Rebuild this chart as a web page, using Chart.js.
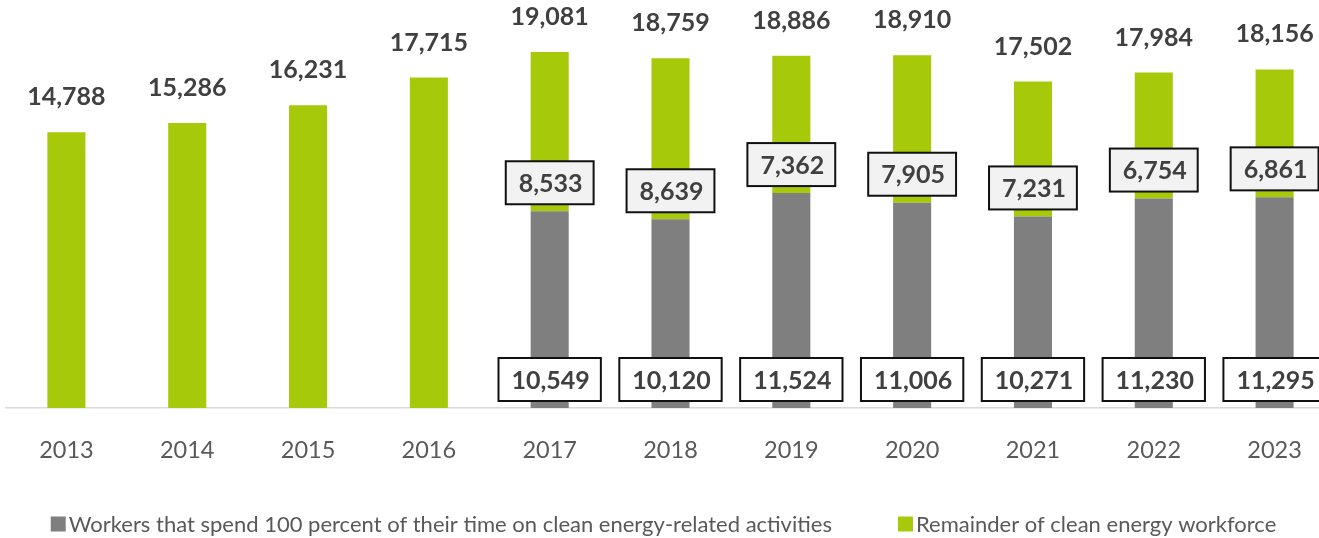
<!DOCTYPE html>
<html>
<head>
<meta charset="utf-8">
<script src="https://cdn.jsdelivr.net/npm/chart.js@4.4.1/dist/chart.umd.min.js"></script>
<style>
  html, body { margin: 0; padding: 0; background: #ffffff; overflow: hidden; }
  #wrap { width: 1340px; height: 538px; }
</style>
</head>
<body>
<div id="wrap"><canvas id="c" width="1340" height="538"></canvas></div>
<script>
// ---- data ----
const years = ['2013','2014','2015','2016','2017','2018','2019','2020','2021','2022','2023'];
const fullTimeWorkers = [null, null, null, null, 10549, 10120, 11524, 11006, 10271, 11230, 11295];
const remainderWorkers = [14788, 15286, 16231, 17715, 8533, 8639, 7362, 7905, 7231, 6754, 6861];
const totalWorkers = [14788, 15286, 16231, 17715, 19081, 18759, 18886, 18910, 17502, 17984, 18156];
const seriesNames = ['Workers that spend 100 percent of their time on clean energy-related activities',
                     'Remainder of clean energy workforce'];

const GRAY = '#7F7F7F';
const GREEN = '#A6C90A';
const LABEL_DARK = '#404040';
const FONT = 'Lato, "Open Sans", sans-serif';

const fmt = v => v.toLocaleString('en-US');

const labelsPlugin = {
  id: 'customLabels',
  afterDatasetsDraw(chart) {
    const ctx = chart.ctx;
    const m0 = chart.getDatasetMeta(0);
    const m1 = chart.getDatasetMeta(1);
    ctx.save();
    ctx.font = 'bold 25px ' + FONT;
    ctx.textAlign = 'center';
    ctx.textBaseline = 'middle';

    function box(text, cx, cy, fill) {
      const tw = ctx.measureText(text).width;
      const w = tw + 24, h = 43;
      ctx.fillStyle = fill;
      ctx.fillRect(cx - w / 2, cy - h / 2, w, h);
      ctx.lineWidth = 2;
      ctx.strokeStyle = '#111111';
      ctx.strokeRect(cx - w / 2, cy - h / 2, w, h);
      ctx.fillStyle = LABEL_DARK;
      ctx.fillText(text, cx + 1, cy + 1);
    }

    years.forEach((y, i) => {
      const top = m1.data[i];
      ctx.fillStyle = LABEL_DARK;
      ctx.fillText(fmt(totalWorkers[i]), top.x, top.y - 35);
      if (fullTimeWorkers[i] != null) {
        const g = m0.data[i];
        box(fmt(fullTimeWorkers[i]), g.x, g.base - 28.5, '#FFFFFF');
        box(fmt(remainderWorkers[i]), top.x, top.base - 28.5, '#F2F2F2');
      }
    });
    ctx.restore();
  }
};

const legendPlugin = {
  id: 'customLegend',
  afterDraw(chart) {
    const ctx = chart.ctx;
    ctx.save();
    ctx.font = '22px ' + FONT;
    ctx.textBaseline = 'middle';
    ctx.textAlign = 'left';
    const sq = 15, gapText = 3, gapItems = 66;
    const items = chart.data.datasets.map(ds => ({ text: ds.label, color: ds.backgroundColor }));
    const widths = items.map(it => sq + gapText + ctx.measureText(it.text).width);
    const total = widths.reduce((a, b) => a + b, 0) + gapItems * (items.length - 1);
    let x = (chart.chartArea.left + chart.chartArea.right) / 2 - total / 2 - 7;
    const cy = 524;
    items.forEach((it, k) => {
      ctx.fillStyle = it.color;
      ctx.fillRect(x, cy - sq / 2, sq, sq);
      ctx.fillStyle = '#595959';
      ctx.fillText(it.text, x + sq + gapText, cy + 1);
      x += widths[k] + gapItems;
    });
    ctx.restore();
  }
};

new Chart(document.getElementById('c'), {
  type: 'bar',
  data: {
    labels: years,
    datasets: [
      { label: seriesNames[0], data: fullTimeWorkers, backgroundColor: GRAY,
        barPercentage: 0.9, categoryPercentage: 0.35 },
      { label: seriesNames[1], data: remainderWorkers, backgroundColor: GREEN,
        barPercentage: 0.9, categoryPercentage: 0.35 }
    ]
  },
  options: {
    responsive: false,
    animation: false,
    devicePixelRatio: 1,
    layout: { padding: { top: 35, left: 6, right: 5, bottom: 0 } },
    plugins: { legend: { display: false }, tooltip: { enabled: false } },
    scales: {
      x: {
        stacked: true,
        grid: { display: false },
        border: { display: true, color: '#D9D9D9', width: 1.5 },
        ticks: { color: '#595959', font: { family: FONT, size: 23.5 }, padding: 20 },
        afterFit(scale) { scale.height = 130; }
      },
      y: {
        stacked: true,
        display: false,
        min: 0,
        max: 20000
      }
    }
  },
  plugins: [labelsPlugin, legendPlugin]
});
</script>
</body>
</html>
